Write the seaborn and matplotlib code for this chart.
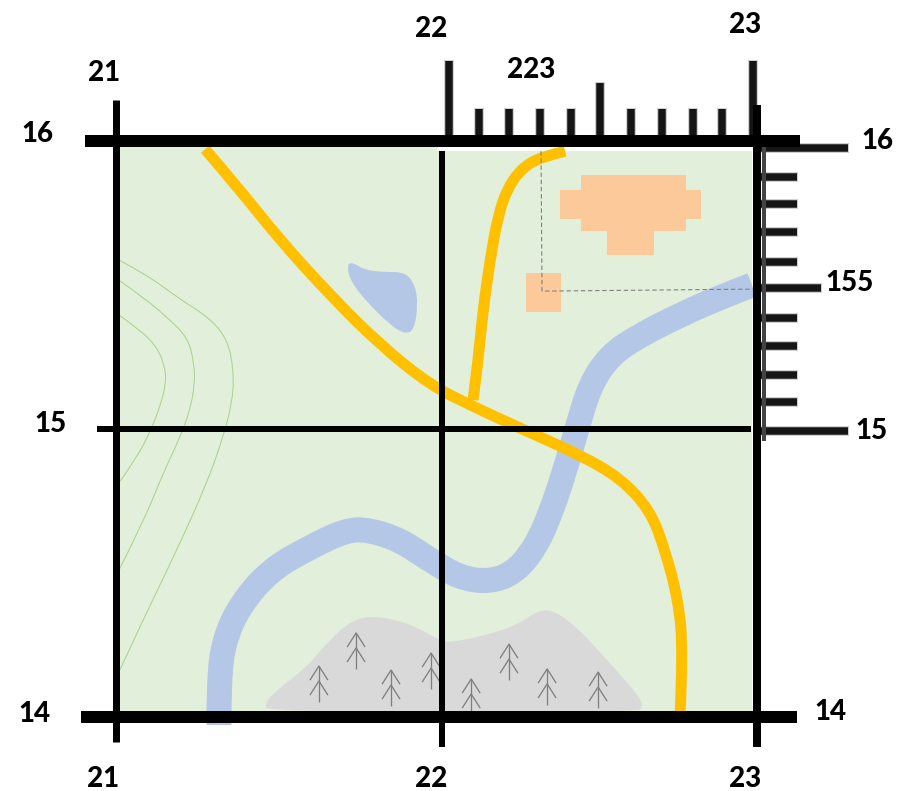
import matplotlib
matplotlib.use("Agg")
import matplotlib.pyplot as plt
from matplotlib.patches import PathPatch
from matplotlib.path import Path
import pandas as pd
import seaborn as sns

# map features, everything in grid units (easting 21-23, northing 14-16)
land_x = [21.0, 22.0, 22.0, 22.984, 22.984, 21.0]
land_y = [16.0, 16.0, 15.965, 15.965, 14.0, 14.0]

road_x = [21.278, 21.387, 21.512, 21.668, 21.824, 21.980, 22.105, 22.261, 22.448, 22.573, 22.666, 22.713, 22.754, 22.769, 22.760]
road_y = [15.972, 15.830, 15.656, 15.465, 15.292, 15.153, 15.083, 15.003, 14.910, 14.830, 14.719, 14.580, 14.406, 14.233, 14.017]

branch_x = [22.114, 22.130, 22.145, 22.167, 22.192, 22.223, 22.267, 22.323, 22.401]
branch_y = [15.101, 15.240, 15.413, 15.587, 15.743, 15.840, 15.906, 15.944, 15.965]

river_x = [21.321, 21.321, 21.337, 21.387, 21.480, 21.605, 21.720, 21.790, 21.886, 21.980, 22.073, 22.167, 22.245, 22.307, 22.354, 22.401, 22.441, 22.479, 22.541, 22.635, 22.760, 22.885, 22.984]
river_y = [13.972, 14.128, 14.267, 14.389, 14.510, 14.590, 14.650, 14.650, 14.615, 14.545, 14.483, 14.469, 14.503, 14.587, 14.701, 14.858, 15.014, 15.153, 15.257, 15.326, 15.396, 15.458, 15.500]

lake_x = [21.721, 21.736, 21.777, 21.839, 21.902, 21.933, 21.942, 21.930, 21.902, 21.855, 21.777, 21.730]
lake_y = [15.569, 15.580, 15.552, 15.545, 15.545, 15.500, 15.431, 15.344, 15.330, 15.361, 15.448, 15.517]

hill_x = [21.465, 21.502, 21.596, 21.646, 21.721, 21.793, 21.917, 22.011, 22.051, 22.158, 22.251, 22.314, 22.363, 22.438, 22.532, 22.635, 22.644, 22.626, 21.471]
hill_y = [14.049, 14.094, 14.174, 14.243, 14.326, 14.354, 14.326, 14.264, 14.260, 14.285, 14.319, 14.368, 14.372, 14.312, 14.198, 14.069, 14.035, 14.017, 14.017]

building_x = [22.451, 22.778, 22.778, 22.825, 22.825, 22.778, 22.778, 22.679, 22.679, 22.532, 22.532, 22.451, 22.451, 22.385, 22.385, 22.451]
building_y = [15.882, 15.882, 15.830, 15.830, 15.729, 15.729, 15.688, 15.688, 15.604, 15.604, 15.688, 15.688, 15.729, 15.729, 15.830, 15.830]

house_x = [22.279, 22.388, 22.388, 22.279]
house_y = [15.542, 15.542, 15.406, 15.406]

pointer_x = [22.326, 22.329, 22.991]
pointer_y = [15.965, 15.479, 15.486]

tree_x = [21.633, 21.749, 21.858, 21.983, 22.108, 22.226, 22.345, 22.504]
tree_y = [14.177, 14.292, 14.163, 14.222, 14.132, 14.253, 14.167, 14.156]

contour1_x = [21.009, 21.075, 21.128, 21.153, 21.156, 21.137, 21.106, 21.066, 21.009]
contour1_y = [15.396, 15.344, 15.285, 15.215, 15.160, 15.076, 14.990, 14.903, 14.813]
contour2_x = [21.009, 21.084, 21.159, 21.225, 21.243, 21.246, 21.231, 21.200, 21.147, 21.084, 21.009]
contour2_y = [15.517, 15.458, 15.389, 15.316, 15.229, 15.160, 15.066, 14.972, 14.847, 14.674, 14.510]
contour3_x = [21.009, 21.097, 21.190, 21.293, 21.349, 21.368, 21.362, 21.334, 21.284, 21.190, 21.084, 21.009]
contour3_y = [15.587, 15.535, 15.458, 15.385, 15.309, 15.194, 15.090, 14.972, 14.813, 14.580, 14.337, 14.156]

# roamer scales
top_ticks = [22.039, 22.133, 22.226, 22.323, 22.420, 22.510, 22.607, 22.704, 22.800, 22.891, 22.988]
top_tips = [16.281, 16.115, 16.115, 16.115, 16.115, 16.205, 16.115, 16.115, 16.115, 16.115, 16.281]
side_ticks = [15.976, 15.875, 15.781, 15.684, 15.580, 15.490, 15.385, 15.288, 15.188, 15.094, 14.993]
side_tips = [23.287, 23.128, 23.128, 23.128, 23.128, 23.203, 23.128, 23.128, 23.128, 23.128, 23.287]

labels = ["21", "22", "23", "223", "16", "16", "155", "15", "15", "14", "14", "21", "22", "23"]
label_x = [20.963, 21.983, 22.963, 22.295, 20.754, 23.374, 23.290, 20.794, 23.356, 20.747, 23.228, 20.959, 21.983, 22.963]
label_y = [16.236, 16.389, 16.403, 16.246, 16.024, 16.000, 15.507, 15.017, 14.993, 14.010, 14.017, 13.785, 13.785, 13.785]

PX = 0.72  # 1 px in points at dpi 100

sns.set_theme(style="white")
plt.rcParams["font.family"] = ["Lato", "DejaVu Sans"]

fig, ax = plt.subplots(figsize=(9.09, 7.91), dpi=100)
fig.subplots_adjust(0, 0, 1, 1)


def line(xs, ys, color, px, z, **kw):
    df = pd.DataFrame({"x": xs, "y": ys})
    sns.lineplot(data=df, x="x", y="y", sort=False, estimator=None, color=color,
                 lw=px * PX, zorder=z, solid_capstyle="butt", ax=ax, **kw)


def curve(xs, ys, closed=False):
    # quadratic bezier chain, the read points act as control points
    pts = list(zip(xs, ys))
    mid = lambda a, b: ((a[0] + b[0]) / 2, (a[1] + b[1]) / 2)
    if closed:
        verts = [mid(pts[-1], pts[0])]
        codes = [Path.MOVETO]
        for i, p in enumerate(pts):
            verts += [p, mid(p, pts[(i + 1) % len(pts)])]
            codes += [Path.CURVE3, Path.CURVE3]
        return Path(verts, codes)
    verts = [pts[0]]
    codes = [Path.MOVETO]
    for i in range(1, len(pts) - 1):
        end = mid(pts[i], pts[i + 1]) if i < len(pts) - 2 else pts[i + 1]
        verts += [pts[i], end]
        codes += [Path.CURVE3, Path.CURVE3]
    return Path(verts, codes)


def stroke(xs, ys, color, px, z):
    ax.add_patch(PathPatch(curve(xs, ys), fill=False, edgecolor=color, lw=px * PX,
                           capstyle="butt", zorder=z))


def blob(xs, ys, color, z):
    ax.add_patch(PathPatch(curve(xs, ys, closed=True), facecolor=color, edgecolor="none", zorder=z))


ax.fill(land_x, land_y, color="#E2EFDA", lw=0, zorder=1)
blob(hill_x, hill_y, "#D9D9D9", 2)
blob(lake_x, lake_y, "#B4C7E7", 2)
ax.fill(building_x, building_y, color="#FBC99A", lw=0, zorder=2)
ax.fill(house_x, house_y, color="#FBC99A", lw=0, zorder=2)

for cx, cy in [(contour1_x, contour1_y), (contour2_x, contour2_y), (contour3_x, contour3_y)]:
    stroke(cx, cy, "#A9D18E", 1, 2)

# trees: trunk and two chevrons
for tx, ty in zip(tree_x, tree_y):
    line([tx, tx], [ty, ty - 0.125], "#7F7F7F", 1.3, 3)
    for off in [0, 0.052]:
        line([tx - 0.028, tx, tx + 0.028], [ty - off - 0.049, ty - off, ty - off - 0.049], "#7F7F7F", 1.3, 3)

stroke(river_x, river_y, "#B4C7E7", 25, 3)
stroke(road_x, road_y, "#FFC000", 11, 4)
stroke(branch_x, branch_y, "#FFC000", 11, 4)
line(pointer_x, pointer_y, "#808080", 1.1, 5, linestyle=(0, (4, 2.5)))

# scales, pasted in blurry in the original so a grey halo under each tick
for x, tip in zip(top_ticks, top_tips):
    line([x, x], [16.0, tip], "#D0D0D0", 10, 5)
    line([x, x], [16.0, tip - 0.004], "#151515", 7.5, 5)
for y, tip in zip(side_ticks, side_tips):
    line([23.0, tip], [y, y], "#D0D0D0", 10, 5)
    line([23.0, tip - 0.004], [y, y], "#151515", 7.5, 5)
line([23.023, 23.023], [14.96, 15.98], "#444444", 4, 5)

# grid lines
line([21.0, 21.0], [16.142, 13.913], "black", 7, 6)
line([22.017, 22.017], [15.965, 13.896], "black", 6, 6)
line([23.0, 23.0], [16.125, 13.896], "black", 8, 6)
line([20.903, 23.134], [16.0, 16.0], "black", 12, 6)
line([20.94, 22.98], [15.0, 15.0], "black", 6, 6)
line([20.89, 23.125], [14.0, 14.0], "black", 12, 6)

for s, x, y in zip(labels, label_x, label_y):
    ax.text(x, y, s, fontsize=20, fontweight="black", color="black", ha="center", va="center", zorder=7)

ax.set_xlim(20.638, 23.474)
ax.set_ylim(13.743, 16.490)
ax.set_axis_off()

fig.savefig("out.png", dpi=100)
